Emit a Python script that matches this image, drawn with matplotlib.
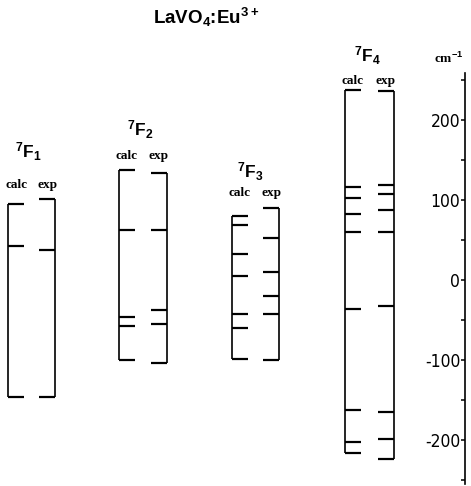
import matplotlib
matplotlib.use("Agg")
import matplotlib.pyplot as plt
from matplotlib import font_manager
from matplotlib.font_manager import FontProperties
from matplotlib.ticker import FixedLocator

# ---------------- data (cm^-1, relative to each multiplet barycentre) -------------
multiplets = ["F_1", "F_2", "F_3", "F_4"]
calc_F1 = [95, 42, -146]
exp_F1 = [101, 37, -146]
calc_F2 = [137, 62.5, -46, -57.5, -100]
exp_F2 = [134, 62, -37.5, -55, -104]
calc_F3 = [80, 69, 33, 5, -42.5, -60, -99]
exp_F3 = [90, 53, 10, -20, -42.5, -100]
calc_F4 = [237, 116, 102, 83, 60, -36, -163, -202, -216]
exp_F4 = [236, 119, 107, 88, 60, -33, -165, -199, -224]
major_ticks = [-200, -100, 0, 100, 200]
minor_ticks = [-250, -150, -50, 50, 150, 250]
tick_labels = ["-200", "-100", "0", "100", "200"]
col_labels = ["calc", "exp"]

# ---------------- layout -------------------------------------------------------------
W, H = 471, 486
PX_PER_UNIT = 0.8         # pixels per cm^-1
Y_ZERO_PX = 280           # pixel row of the 0 level (from top)

def v_of(ypx):
    return (Y_ZERO_PX - ypx) / PX_PER_UNIT

calc_x = [8.3, 119, 231.7, 345]
exp_x = [55, 166.7, 279, 394]
tick_len = 16
label_pos = [(28, 152), (140, 130), (250, 172), (367, 56)]
word_y = [185, 156, 193, 81]

# look for a condensed sans face for the tick labels
narrow_prop = None
for f in font_manager.fontManager.ttflist:
    n = f.name.lower()
    if ("narrow" in n or "condensed" in n or str(f.stretch) in ("condensed", "semi-condensed", "75", "87")) \
            and f.style == "normal" and str(f.weight) in ("400", "normal", "regular", "500", "medium"):
        narrow_prop = FontProperties(fname=f.fname)
        break
found_narrow = narrow_prop is not None
if narrow_prop is None:
    narrow_prop = FontProperties(family="Liberation Sans")

plt.rcParams["mathtext.fontset"] = "custom"
plt.rcParams["mathtext.rm"] = "Liberation Sans"
plt.rcParams["mathtext.bf"] = "Liberation Sans:bold"
plt.rcParams["axes.unicode_minus"] = False

fig = plt.figure(figsize=(W / 100, H / 100), dpi=100)
ax = fig.add_axes([0, 0, 1, 1])
ax.set_xlim(0, W)
ax.set_ylim(v_of(H), v_of(0))

calcs = [calc_F1, calc_F2, calc_F3, calc_F4]
exps = [exp_F1, exp_F2, exp_F3, exp_F4]

for i in range(4):
    cx, ex = calc_x[i], exp_x[i]
    c, e = calcs[i], exps[i]
    ax.vlines(cx, min(c), max(c), color="black", lw=1.2)
    ax.hlines(c, cx, cx + tick_len, color="black", lw=1.6)
    ax.vlines(ex, min(e), max(e), color="black", lw=1.2)
    ax.hlines(e, ex - tick_len, ex, color="black", lw=1.6)
    lx, ly = label_pos[i]
    ax.text(lx, v_of(ly), r"$\mathbf{{}^7%s}$" % multiplets[i], ha="center",
            va="center", fontsize=12.5)
    ax.text(cx + tick_len / 2, v_of(word_y[i]), col_labels[0], ha="center", va="center",
            fontsize=9.5, fontweight="bold", family="Liberation Serif")
    ax.text(ex - tick_len / 2, v_of(word_y[i]), col_labels[1], ha="center", va="center",
            fontsize=9.5, fontweight="bold", family="Liberation Serif")

# title
ax.text(206, v_of(17), r"$\mathbf{LaVO_4}$:$\mathbf{Eu^{3+}}$", ha="center", va="center",
        fontsize=13.5, fontweight="bold", family="Liberation Sans")

# energy axis
for s in ["top", "right", "bottom"]:
    ax.spines[s].set_visible(False)
ax.spines["left"].set_position(("data", 465))
ax.spines["left"].set_bounds(v_of(484), v_of(73))
ax.spines["left"].set_linewidth(1.2)
ax.xaxis.set_visible(False)
ax.yaxis.set_major_locator(FixedLocator(major_ticks))
ax.yaxis.set_minor_locator(FixedLocator(minor_ticks))
ax.set_yticklabels(tick_labels)
ax.tick_params(axis="y", which="both", direction="out", length=3, width=1.1, pad=0.5)
for t in ax.get_yticklabels():
    t.set_fontproperties(narrow_prop)
    t.set_fontsize(12.5 if found_narrow else 10.5)
ax.text(434, v_of(58), r"cm$^{\mathbf{-1}}$", ha="left", va="center", fontsize=9.5,
        fontweight="bold", family="Liberation Serif")

fig.savefig("out.png", dpi=100)
